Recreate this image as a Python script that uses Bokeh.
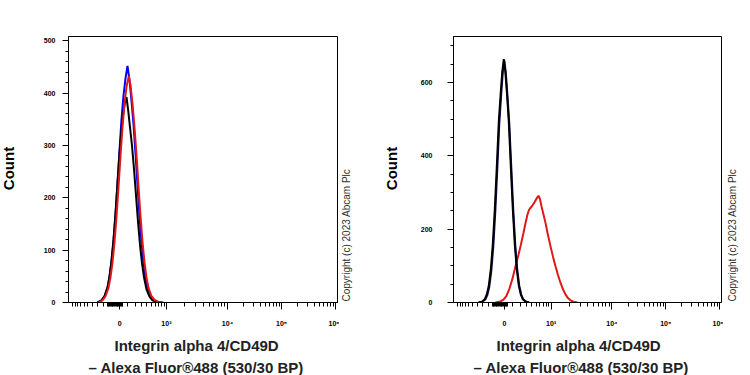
import numpy as np
from bokeh.plotting import figure
from bokeh.models import FixedTicker, Label, Range1d, Title
from bokeh.layouts import row
from bokeh.embed import file_html
from bokeh.resources import INLINE

# ---- x axis: display channels 0..1000 (biexponential display) ----
X_TICK_POS = [190, 364, 591, 792, 993]
X_TICK_LABELS = ["0", "10³", "10⁴", "10⁵", "10⁶"]

# ---- left panel (counts) ----
L_Y_TICKS = [0, 100, 200, 300, 400, 500]
L_BLUE_X = [107.8, 122.7, 133.8, 145.0, 152.4, 159.8, 167.3, 174.7, 182.1, 189.6, 197.0, 204.4, 211.9, 219.3,
            226.7, 234.2, 241.6, 249.0, 256.5, 263.9, 271.3, 278.8, 286.2, 293.6, 304.8, 315.9, 330.8, 349.4]
L_BLUE_Y = [0, 4, 12, 28, 48, 77, 117, 167, 226, 290, 350, 395, 428, 452,
            425, 385, 340, 285, 224, 165, 116, 77, 48, 28, 12, 5, 1, 0]
L_RED_X = [111.5, 126.4, 137.5, 148.7, 156.1, 163.5, 171.0, 178.4, 185.9, 193.3, 200.7, 208.2, 215.6, 224.1,
           230.5, 237.9, 245.3, 252.8, 260.2, 267.6, 275.1, 282.5, 289.9, 297.4, 308.5, 319.7, 334.5, 353.1]
L_RED_Y = [0, 4, 12, 28, 48, 76, 115, 163, 220, 280, 335, 380, 412, 432,
           415, 380, 335, 282, 222, 165, 116, 77, 48, 28, 12, 5, 1, 0]
L_BLACK_X = [107.8, 122.7, 133.8, 145.0, 152.4, 159.8, 167.3, 174.7, 182.1, 189.6, 197.0, 204.4, 211.9, 215.6,
             221.2, 228.6, 236.0, 243.5, 250.9, 258.3, 265.8, 273.2, 280.6, 289.9, 301.1, 312.2, 327.1, 345.7]
L_BLACK_Y = [0, 4, 12, 29, 50, 80, 120, 170, 228, 285, 330, 365, 388, 392,
             370, 335, 300, 255, 205, 155, 110, 75, 48, 25, 11, 4, 1, 0]

# ---- right panel (counts) ----
R_Y_TICKS = [0, 200, 400, 600]
R_BLACK_X = [93.3, 105.6, 116.8, 124.2, 131.7, 139.2, 146.6, 154.1, 161.6, 169.0, 176.5, 182.1, 187.7,
             193.3, 198.9, 206.3, 213.8, 221.3, 228.7, 236.2, 243.6, 251.1, 258.6, 269.8, 280.9]
R_BLACK_Y = [0, 2, 9, 22, 46, 90, 158, 254, 371, 493, 575, 630, 663,
             630, 575, 493, 371, 254, 158, 90, 46, 22, 9, 2, 0]
R_BLUE_X = [95.2, 107.5, 118.7, 126.1, 133.6, 141.1, 148.5, 156.0, 163.5, 170.9, 178.4, 184.0, 189.6,
            195.2, 200.8, 208.2, 215.7, 223.2, 230.6, 238.1, 245.5, 253.0, 260.5, 271.7, 282.8]
R_BLUE_Y = [0, 2, 8, 20, 43, 86, 152, 248, 365, 488, 572, 628, 660,
            626, 570, 488, 368, 250, 155, 88, 45, 21, 8, 2, 0]
R_RED_X = [156.7, 175.4, 186.6, 197.7, 208.9, 220.1, 231.3, 242.5, 250.0, 261.2, 268.6, 276.1, 281.7, 287.3,
           294.7, 302.2, 309.7, 317.1, 322.7, 328.3, 335.8, 343.3, 350.7, 362.0, 371.2, 380.6, 389.9, 399.2,
           408.5, 417.9, 427.2, 436.5, 447.7, 462.6]
R_RED_Y = [0, 3, 8, 18, 38, 65, 99, 130, 153, 190, 216, 240, 252, 258,
           265, 273, 283, 291, 282, 262, 240, 217, 190, 153, 125, 99, 75, 54,
           36, 22, 12, 6, 2, 0]

Y_TITLE = "Count"
X_TITLE_1 = "Integrin alpha 4/CD49D"
X_TITLE_2 = "– Alexa Fluor®488 (530/30 BP)"
COPYRIGHT = "Copyright (c) 2023 Abcam Plc"
FONT = "Liberation Sans"
TOTAL_H = 375
TOP = 36
FRAME_H = 266
BOTTOM = TOTAL_H - TOP - FRAME_H


def lin_pos(v):
    return 190 + (364 - 190) * np.arcsinh(v / 275.0) / np.arcsinh(1000 / 275.0)


minor = [lin_pos(v) for v in range(-1000, -100, 100)]
minor += [lin_pos(v) for v in range(-150, 50, 10) if v != 0]
minor += [lin_pos(v) for v in range(100, 1000, 100)]
for i in range(1, 4):
    a, b = X_TICK_POS[i], X_TICK_POS[i + 1]
    minor += [a + (b - a) * np.log10(k) for k in range(2, 10)]
minor = [float(m) for m in minor]


def make_panel(ymax, yticks, yminor, border_left, tick_standoff, curves, width, off1, off2):
    p = figure(frame_width=width, frame_height=FRAME_H, output_backend="svg", toolbar_location=None,
               x_range=Range1d(0, 1000), y_range=Range1d(0, ymax),
               min_border_left=border_left, min_border_top=TOP, min_border_bottom=BOTTOM,
               min_border_right=2)
    p.grid.visible = False
    p.outline_line_color = "black"
    p.outline_line_width = 1
    p.background_fill_color = "white"
    p.border_fill_color = "white"

    for xs, ys, col in curves:
        p.line(xs, ys, line_color=col, line_width=2)

    xa = p.xaxis[0]
    xa.ticker = FixedTicker(ticks=X_TICK_POS, minor_ticks=minor)
    xa.major_label_overrides = {t: l for t, l in zip(X_TICK_POS, X_TICK_LABELS)}
    xa.major_tick_in = 0
    xa.major_tick_out = 7
    xa.minor_tick_in = 0
    xa.minor_tick_out = 4
    xa.major_label_standoff = 10
    xa.major_label_text_font = FONT
    xa.major_label_text_font_style = "bold"
    xa.major_label_text_font_size = "7px"
    xa.major_label_text_color = "black"
    xa.axis_line_color = "black"

    ya = p.yaxis[0]
    ya.ticker = FixedTicker(ticks=yticks, minor_ticks=yminor)
    ya.major_tick_in = 0
    ya.major_tick_out = 6
    ya.minor_tick_in = 0
    ya.minor_tick_out = 3
    ya.major_label_standoff = tick_standoff
    ya.major_label_text_font = FONT
    ya.major_label_text_font_style = "bold"
    ya.major_label_text_font_size = "7px"
    ya.major_label_text_color = "black"
    ya.axis_line_color = "black"

    for txt, so, off in ((X_TITLE_1, 11, off1), (X_TITLE_2, -6, off2)):
        p.add_layout(Title(text=txt, align="left", offset=off, standoff=so,
                           text_font=FONT, text_font_style="bold", text_font_size="15px",
                           text_color="#222222"), "below")
    return p


def text_strip(width, x_text, page_y, text, size, style, color, align):
    # frame aligned with the panels' frames: y data = pixels above the frame bottom
    c = figure(title=None, frame_width=width, frame_height=FRAME_H, output_backend="svg",
               toolbar_location=None, x_range=Range1d(0, width), y_range=Range1d(0, FRAME_H),
               min_border_top=TOP, min_border_bottom=BOTTOM, min_border_left=0, min_border_right=0,
               outline_line_color=None)
    c.axis.visible = False
    c.grid.visible = False
    c.add_layout(Label(x=x_text, y=TOP + FRAME_H - page_y, text=text, angle=np.pi / 2,
                       text_align=align, text_baseline="middle", text_font=FONT,
                       text_font_size=size, text_font_style=style, text_color=color))
    return c


s1 = text_strip(30, 8, 168, Y_TITLE, "15px", "bold", "black", "center")
p1 = make_panel(508, L_Y_TICKS, [v for v in range(0, 509, 20) if v % 100], 38, 7,
                [(L_BLUE_X, L_BLUE_Y, "#0000ff"), (L_BLACK_X, L_BLACK_Y, "#000000"),
                 (L_RED_X, L_RED_Y, "#e01818")], 269, 46, 20)
c1 = text_strip(44, 7, 301, COPYRIGHT, "10px", "normal", "#333333", "left")
s2 = text_strip(30, 8, 168, Y_TITLE, "15px", "bold", "black", "center")
p2 = make_panel(725, R_Y_TICKS, [v for v in range(0, 726, 50) if v % 200], 40, 15,
                [(R_RED_X, R_RED_Y, "#e01818"), (R_BLUE_X, R_BLUE_Y, "#10105a"),
                 (R_BLACK_X, R_BLACK_Y, "#000000")], 268, 43, 20)
c2 = text_strip(20, 9, 301, COPYRIGHT, "10px", "normal", "#333333", "left")

layout = row(s1, p1, c1, s2, p2, c2)
open("out.html", "w").write(file_html(layout, INLINE))
